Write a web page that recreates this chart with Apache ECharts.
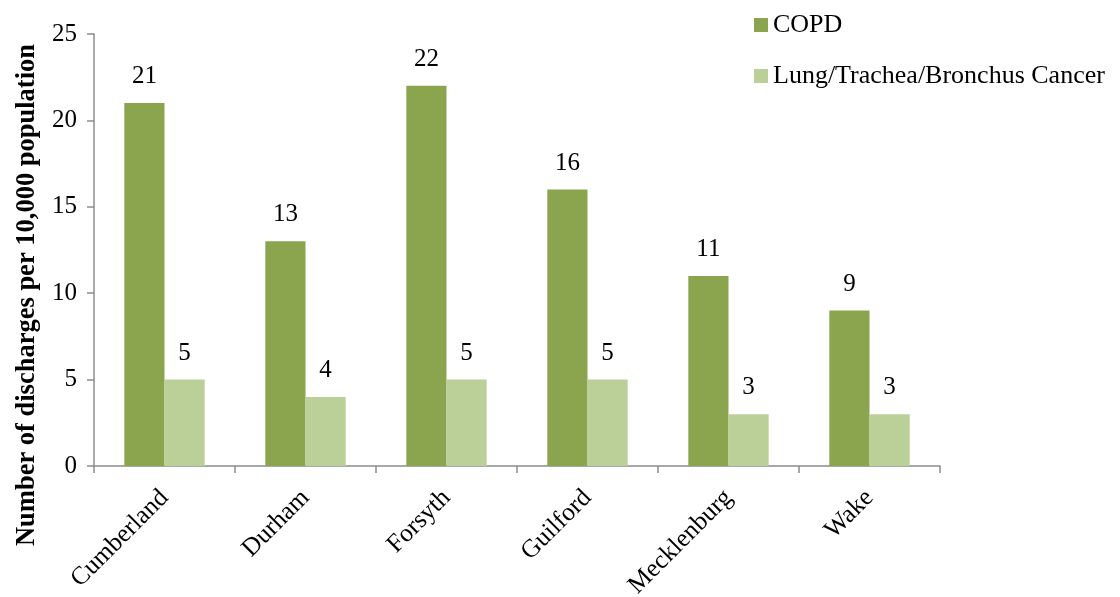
<!DOCTYPE html>
<html><head><meta charset="utf-8">
<script src="https://cdn.jsdelivr.net/npm/echarts@6/dist/echarts.min.js"></script>
<style>html,body{margin:0;padding:0;background:#fff}#c{width:1120px;height:597px}</style>
</head><body><div id="c"></div>
<script>
const categories = ['Cumberland','Durham','Forsyth','Guilford','Mecklenburg','Wake'];
const copd = [21,13,22,16,11,9];
const lung = [5,4,5,5,3,3];
const seriesNames = ['COPD','Lung/Trachea/Bronchus Cancer'];
const yTitle = 'Number of discharges per 10,000 population';
const font = '"Liberation Serif","Times New Roman",serif';
const chart = echarts.init(document.getElementById('c'));
const lbl = {show:true, position:'top', distance:14, color:'#000', fontFamily:font, fontSize:25};
chart.setOption({
  animation:false,
  textStyle:{fontFamily:font},
  grid:{left:94,right:180,top:34,bottom:131,containLabel:false,outerBoundsMode:'none'},
  legend:{orient:'vertical',left:749,top:7,itemWidth:14,itemHeight:14,itemGap:25,icon:'rect',
    textStyle:{fontFamily:font,fontSize:26,color:'#000'},data:seriesNames},
  xAxis:{type:'category',data:categories,
    axisLine:{lineStyle:{color:'#8c8c8c',width:1.5}},
    axisTick:{show:true,length:7,lineStyle:{color:'#8c8c8c',width:1.5}},
    axisLabel:{rotate:45,fontFamily:font,fontSize:25.5,color:'#000',margin:28}},
  yAxis:{type:'value',min:0,max:25,interval:5,
    axisLine:{show:true,lineStyle:{color:'#8c8c8c',width:1.5}},
    axisTick:{show:true,length:7,lineStyle:{color:'#8c8c8c',width:1.5}},
    splitLine:{show:false},
    axisLabel:{fontFamily:font,fontSize:25,color:'#000',margin:17}},
  graphic:[{type:'text',rotation:Math.PI/2,x:27,y:295,
    style:{text:yTitle,font:'bold 26.5px '+font,fill:'#000',textAlign:'center',textVerticalAlign:'middle'}}],
  series:[
    {name:seriesNames[0],type:'bar',data:copd,barWidth:'28.5%',barGap:'0%',itemStyle:{color:'#8AA54E'},label:lbl},
    {name:seriesNames[1],type:'bar',data:lung,barWidth:'28.5%',barGap:'0%',itemStyle:{color:'#BBD098'},label:lbl}
  ]
});
</script></body></html>
